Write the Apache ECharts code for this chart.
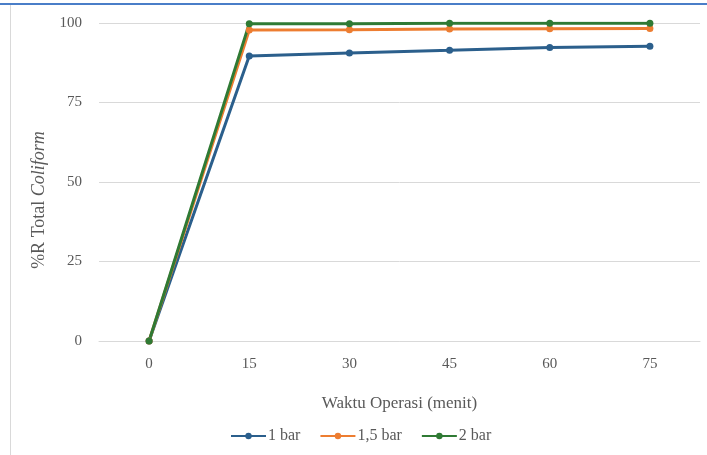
<!DOCTYPE html>
<html>
<head>
<meta charset="utf-8">
<script src="https://cdn.jsdelivr.net/npm/echarts@6/dist/echarts.min.js"></script>
<style>
  html, body { margin: 0; padding: 0; background: #fff; }
  #chart { width: 707px; height: 455px; }
</style>
</head>
<body>
<div id="chart"></div>
<script>
// Operating time (minutes) and total coliform removal (%) per pressure
const categories = ['0', '15', '30', '45', '60', '75'];
const bar1 = [0, 89.6, 90.6, 91.4, 92.3, 92.7];
const bar15 = [0, 97.8, 97.9, 98.1, 98.2, 98.3];
const bar2 = [0, 99.8, 99.8, 99.9, 99.9, 99.9];
const yTicks = [0, 25, 50, 75, 100];

const font = '"Liberation Serif", "Times New Roman", serif';
const textColor = '#595959';
const chart = echarts.init(document.getElementById('chart'));

function lineSeries(name, data, color) {
  return {
    name: name,
    type: 'line',
    data: data,
    symbol: 'circle',
    symbolSize: 7,
    lineStyle: { width: 3, color: color },
    itemStyle: { color: color },
    emphasis: { disabled: true }
  };
}

chart.setOption({
  animation: false,
  textStyle: { fontFamily: font },
  grid: { left: 99, right: 7, top: 23, bottom: 114 },
  graphic: [
    // frame edges: blue top rule and grey left border
    { type: 'line', shape: { x1: 0, y1: 4, x2: 707, y2: 4 }, style: { stroke: '#4a7ec8', lineWidth: 2 } },
    { type: 'line', shape: { x1: 10.5, y1: 5, x2: 10.5, y2: 455 }, style: { stroke: '#d9d9d9', lineWidth: 1 } }
  ],
  legend: {
    bottom: 6,
    left: 225,
    itemWidth: 35,
    itemHeight: 8,
    itemGap: 19,
    textStyle: { fontFamily: font, fontSize: 16, color: textColor, padding: [0, 0, 0, -3] },
    data: ['1 bar', '1,5 bar', '2 bar']
  },
  xAxis: {
    type: 'category',
    data: categories,
    boundaryGap: true,
    name: 'Waktu Operasi (menit)',
    nameLocation: 'middle',
    nameGap: 54,
    nameTextStyle: { fontFamily: font, fontSize: 17, color: textColor },
    axisLine: { show: true, lineStyle: { color: '#d9d9d9' } },
    axisTick: { show: false },
    axisLabel: { fontFamily: font, fontSize: 15, color: textColor, margin: 16 }
  },
  yAxis: {
    type: 'value',
    min: 0,
    max: 100,
    interval: 25,
    name: '{a|%R Total }{b|Coliform}',
    nameLocation: 'middle',
    nameGap: 48,
    nameTextStyle: {
      padding: [0, 36, 0, 0],
      rich: {
        a: { fontFamily: font, fontSize: 18, color: textColor },
        b: { fontFamily: font, fontSize: 18, color: textColor, fontStyle: 'italic' }
      }
    },
    axisLine: { show: false },
    axisTick: { show: false },
    splitLine: { lineStyle: { color: '#d9d9d9' } },
    axisLabel: {
      fontFamily: font, fontSize: 15, color: textColor, margin: 17,
      formatter: v => (yTicks.includes(v) ? String(v) : '')
    }
  },
  series: [
    lineSeries('1 bar', bar1, '#2b5f8c'),
    lineSeries('1,5 bar', bar15, '#ed7d31'),
    lineSeries('2 bar', bar2, '#2f7a34')
  ]
});
</script>
</body>
</html>
